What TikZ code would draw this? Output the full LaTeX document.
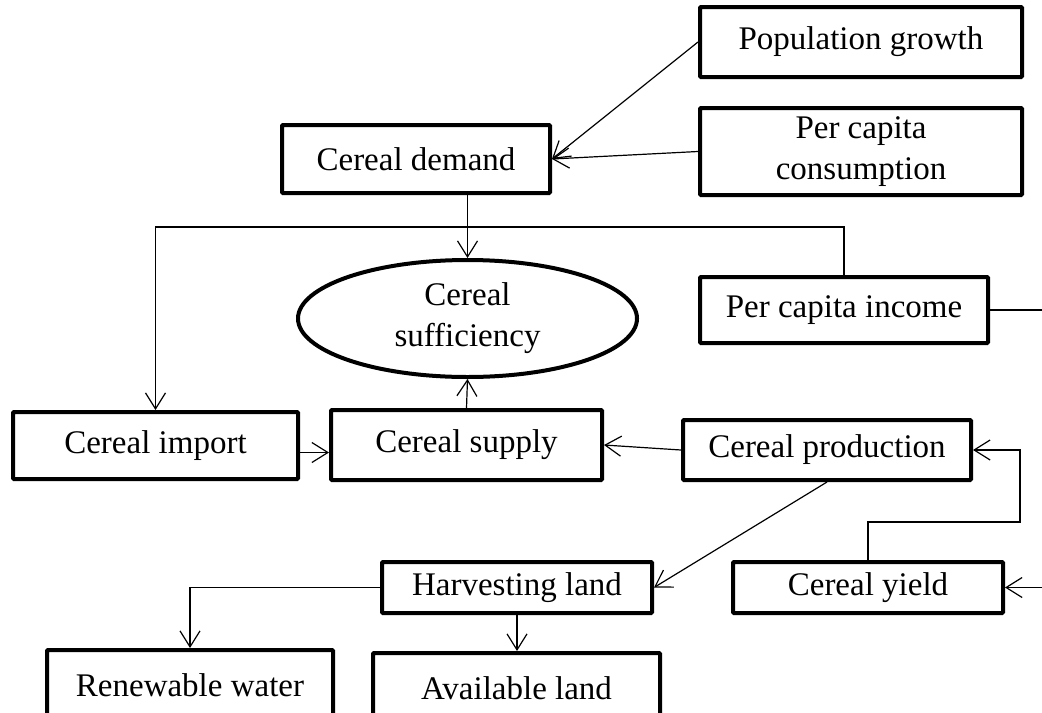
\documentclass[tikz,border=0pt]{standalone}
\usepackage{fontspec}
\setmainfont{Liberation Serif}
\usepackage{xcolor}
\definecolor{cMain}{HTML}{000000}
\usepackage{tikz}
\usetikzlibrary{positioning,arrows.meta,shapes.geometric,calc}
\tikzset{
  node-box/.style={draw=cMain,line width=2pt,rounded corners=0.5pt,
    inner sep=0pt,align=center,font=\fontsize{16.5}{20.5}\selectfont},
  node-state/.style={draw=cMain,line width=2pt,ellipse,inner sep=0pt,
    align=center,font=\fontsize{16.5}{20.5}\selectfont},
  arrow/.style={-{Straight Barb[length=8pt,width=10pt]},line width=0.6pt,draw=cMain},
  link/.style={line width=0.6pt,draw=cMain},
}
\begin{document}
\begin{tikzpicture}[x=0.5pt,y=-0.5pt]
  \useasboundingbox (0,0) rectangle (1042,712);
  % demand side
  \node[node-box,minimum width=161pt,minimum height=35pt]   (pop)  at (861,42)    {Population growth};
  \node[node-box,minimum width=161pt,minimum height=43.5pt] (cons) at (861,151.5) {Per capita\\consumption};
  \node[node-box,minimum width=134pt,minimum height=34pt]   (dem)  at (416,159)   {Cereal demand};
  \node[node-state,minimum width=169.5pt,minimum height=58.5pt] (suff) at (467.5,318.5) {Cereal\\sufficiency};
  \node[node-box,minimum width=144pt,minimum height=33pt]   (inc)  at (844,310)   {Per capita income};
  % supply side
  \node[node-box,minimum width=142.5pt,minimum height=33.5pt] (imp) at (155.5,445.5) {Cereal import};
  \node[node-box,minimum width=135.5pt,minimum height=35pt] (sup)  at (466.5,445)   {Cereal supply};
  \node[node-box,minimum width=144pt,minimum height=30pt]   (prod) at (827,450)    {Cereal production};
  \node[node-box,minimum width=135pt,minimum height=25.5pt] (yld)  at (868,587.5) {Cereal yield};
  \node[node-box,minimum width=135pt,minimum height=25.5pt] (harv) at (517,587.5) {Harvesting land};
  \node[node-box,minimum width=143pt,minimum height=35pt]   (water) at (190,685)  {Renewable water};
  \node[node-box,minimum width=143.5pt,minimum height=35pt] (avail) at (516.5,688) {Available land};
  \coordinate (bus)    at (0,227);
  \coordinate (incout) at (1042,310);
  \coordinate (loopr)  at (1020,522);
  \coordinate (yin)    at (1042,587.5);
  \draw[arrow] (pop.west)  -- (dem.east);
  \draw[arrow] (cons.west) -- (dem.east);
  \draw[arrow] (dem.south -| suff.north) -- (suff.north);
  \draw[arrow] (inc.north) |- (bus -| imp.north) -- (imp.north);
  \draw[link]  (inc.east) -- (incout);
  \draw[arrow] ([yshift=-3.5pt]imp.east) -- ([yshift=-3.5pt]imp.east -| sup.west);
  \draw[arrow] (sup.north) -- (suff.south);
  \draw[arrow] (prod.west) -- (sup.east);
  \draw[arrow] (yld.north) |- (loopr) |- (prod.east);
  \draw[arrow] (yin) -- (yld.east);
  \draw[arrow] (prod.south) -- (harv.east);
  \draw[arrow] (harv.west) -| (water.north);
  \draw[arrow] (harv.south) -- (harv.south |- avail.north);
\end{tikzpicture}
\end{document}
